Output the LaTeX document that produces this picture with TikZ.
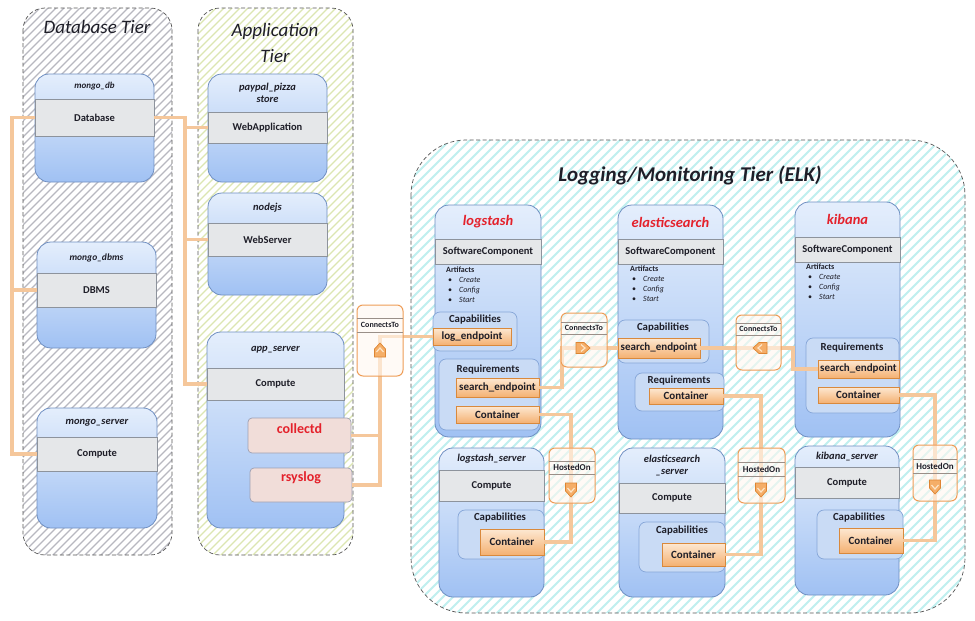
\documentclass[tikz,border=0pt]{standalone}
\usepackage{fontspec}
\setmainfont{Carlito}
\usetikzlibrary{calc,shadows}
\definecolor{compTop}{HTML}{E4EEFC}
\definecolor{compBot}{HTML}{A0C1F3}
\definecolor{compedge}{HTML}{6F8FC2}
\definecolor{bandfill}{HTML}{E5E7E9}
\definecolor{bandedge}{HTML}{8D939C}
\definecolor{subfill}{HTML}{C9DBF5}
\definecolor{subedge}{HTML}{86A6D8}
\definecolor{oTop}{HTML}{FDE8D2}
\definecolor{oBot}{HTML}{F4B172}
\definecolor{oedge}{HTML}{D9893C}
\definecolor{connc}{HTML}{F5C79B}
\definecolor{relframe}{HTML}{EE9D57}
\definecolor{relfill}{HTML}{FFF8F0}
\definecolor{relsep}{HTML}{9A8F88}
\definecolor{iconfill}{HTML}{F5AE68}
\definecolor{iconedge}{HTML}{DD8533}
\definecolor{iconline}{HTML}{FDE5C8}
\definecolor{pinkfill}{HTML}{F1DDD9}
\definecolor{pinkedge}{HTML}{9EA0B2}
\definecolor{redtxt}{HTML}{E4212B}
\definecolor{txt}{HTML}{1E1E28}
\definecolor{dbhatch}{HTML}{B8B8C0}
\definecolor{apphatch}{HTML}{DCE6B2}
\definecolor{elkhatch}{HTML}{C0EFEF}
\definecolor{tierline}{HTML}{555555}
\newcommand\redtitle{\fontsize{14.5}{16}\selectfont\color{redtxt}}
\newcommand\compbox[9]{%
  \path[compbody] (#2,#3) rectangle (#4,#5);
  \node[titletext] (#1-n) at ({(#2+#4)/2},{(#3+#6)/2}) {#8};
  \node[band, minimum width={(#4-#2)*1pt}, minimum height={(#7-#6)*1pt}] (#1-t) at ({(#2+#4)/2},{(#6+#7)/2}) {#9};
}
\newcommand\obox[6]{%
  \node[orangebox, minimum width={(#4-#2)*1pt}, minimum height={(#5-#3)*1pt}] (#1) at ({(#2+#4)/2},{(#3+#5)/2}) {#6};
}
\newcommand\relbox[8]{%
  \path[relbody] (#2,#3) rectangle (#4,#5);
  \draw[relsepline] (#2,#6) -- (#4,#6) (#2,#7) -- (#4,#7);
  \node[reltext] (#1) at ({(#2+#4)/2},{(#6+#7)/2}) {#8};
}
\newcommand\relicon[4]{%
  \coordinate (#1) at (#2,#3);
  \begin{scope}[shift={(#1)},rotate=#4]
    \filldraw[iconst] (-5.5,7) -- (-5.5,-1) -- (0,-7) -- (5.5,-1) -- (5.5,7) -- cycle;
    \draw[iconch] (-3.5,2) -- (0,-2) -- (3.5,2);
  \end{scope}
}
\newcommand\artifacts[3]{%
  \node[artif, anchor=north west] (#1) at (#2,#3) {%
    \begin{tabular}{@{}l@{\hspace{7pt}}l@{}}
      \multicolumn{2}{@{}l}{\bfseries Artifacts}\\
      \hspace{2pt}\textbullet & \itshape Create\\
      \hspace{2pt}\textbullet & \itshape Config\\
      \hspace{2pt}\textbullet & \itshape Start
    \end{tabular}};
}
\begin{document}
\begin{tikzpicture}[x=1pt,y=-1pt,
  tier/.style={draw=tierline, dash pattern=on 4pt off 2.5pt, line width=0.7pt},
  hatch/.style={line width=1.1pt},
  compbody/.style={draw=compedge, line width=0.8pt, top color=compTop, bottom color=compBot, rounded corners=14pt},
  band/.style={draw=bandedge, fill=bandfill, line width=0.6pt, inner sep=0pt, outer sep=0pt, font=\fontsize{10.5}{12}\selectfont\bfseries, text=txt},
  titletext/.style={inner sep=0pt, align=center, font=\fontsize{10.5}{12}\selectfont\bfseries\itshape, text=txt},
  subbox/.style={draw=subedge, fill=subfill, line width=0.7pt, rounded corners=7pt},
  sublabel/.style={inner sep=0pt, font=\fontsize{10.8}{12}\selectfont\bfseries, text=txt},
  orangebox/.style={draw=oedge, line width=0.7pt, top color=oTop, bottom color=oBot, inner sep=0pt, outer sep=0pt, font=\fontsize{11}{12}\selectfont\bfseries, text=txt, drop shadow={shadow xshift=1.2pt, shadow yshift=-1.2pt, opacity=0.35, fill=black!60}},
  pinkbox/.style={draw=pinkedge, fill=pinkfill, line width=0.7pt, rounded corners=4pt, inner sep=0pt},
  redlabel/.style={inner sep=0pt, font=\fontsize{14}{16}\selectfont\bfseries, text=redtxt},
  relbody/.style={draw=relframe, fill=relfill, fill opacity=0.6, line width=1pt, rounded corners=6pt},
  relsepline/.style={draw=relsep, line width=0.6pt},
  reltext/.style={inner sep=0pt, font=\fontsize{8}{9}\selectfont\bfseries, text=txt},
  iconst/.style={fill=iconfill, draw=iconedge, line width=0.7pt},
  iconch/.style={draw=iconline, line width=1.2pt},
  conn/.style={draw=connc, line width=3.5pt},
  artif/.style={inner sep=0pt, font=\fontsize{8}{10}\selectfont, text=txt},
  tiertitle/.style={inner sep=0pt, align=center, font=\fontsize{19}{26}\selectfont\itshape, text=txt}
]
\useasboundingbox (0,0) rectangle (975,621);
\fill[white] (0,0) rectangle (975,621);

% tiers (hatched)
\begin{scope}
  \clip[rounded corners=22pt] (23,8) rectangle (172,555);
  \foreach \k in {-560,-552,...,180} \draw[hatch, dbhatch] (\k,560) -- ++(560,-560);
\end{scope}
\begin{scope}
  \clip[rounded corners=22pt] (198,8) rectangle (353,555);
  \foreach \k in {-360,-352,...,360} \draw[hatch, apphatch, line width=1.4pt] (\k,560) -- ++(560,-560);
\end{scope}
\begin{scope}
  \clip[rounded corners=55pt] (411,140) rectangle (965,613);
  \foreach \k in {-80,-70,...,970} \draw[hatch, elkhatch, line width=1.9pt] (\k,620) -- ++(490,-490);
\end{scope}
\draw[tier, rounded corners=22pt] (23,8) rectangle (172,555);
\draw[tier, rounded corners=22pt] (198,8) rectangle (353,555);
\draw[tier, rounded corners=55pt] (411,140) rectangle (965,613);
\node[tiertitle] (dbtitle) at (97,27) {Database Tier};
\node[tiertitle] (apptitle) at (275,43) {Application\\Tier};
\node[tiertitle, font=\fontsize{21}{24}\selectfont\bfseries\itshape] (elktitle) at (690,175) {Logging/Monitoring Tier (ELK)};

% database tier
\compbox{mdb}{35}{74}{154}{182}{99}{136}{\fontsize{9}{10}\selectfont mongo\_db}{Database}
\compbox{mdbms}{37}{242}{156}{348}{273}{307}{\fontsize{9.5}{10}\selectfont mongo\_dbms}{DBMS}
\compbox{ms}{37}{408}{157}{528}{437}{471}{mongo\_server}{Compute}

% application tier
\compbox{pp}{208}{74}{327}{182}{112}{143}{paypal\_pizza\\store}{WebApplication}
\compbox{nj}{208}{193}{327}{295}{223}{256}{nodejs}{WebServer}
\compbox{as}{207}{332}{344}{528}{368}{400}{app\_server}{Compute}
\node[pinkbox, minimum width=103pt, minimum height=35pt] (cd) at (299.5,435.5) {};
\node[redlabel] (cd-l) at (299.5,429) {collectd};
\node[pinkbox, minimum width=102pt, minimum height=34pt] (rs) at (301,485) {};
\node[redlabel] (rs-l) at (301,478) {rsyslog};

% ELK tier
\compbox{ls}{435}{205}{541}{437}{239}{264}{\redtitle logstash}{SoftwareComponent}
\compbox{es}{618}{205}{723}{439}{239}{264}{\redtitle elasticsearch}{SoftwareComponent}
\compbox{kb}{795}{202}{900}{437}{237}{262}{\redtitle kibana}{SoftwareComponent}
\compbox{lss}{439}{448}{544}{597}{470}{501}{logstash\_server}{Compute}
\compbox{ess}{619}{448}{725}{597}{483}{513}{elasticsearch\\\_server}{Compute}
\compbox{kbs}{795}{446}{899}{595}{467}{498}{kibana\_server}{Compute}

\artifacts{ls-art}{446}{265}
\artifacts{es-art}{630}{264}
\artifacts{kb-art}{806}{262}

% logstash
\draw[subbox] (433,312) rectangle (517,351);
\node[sublabel] (ls-capl) at (475,320) {Capabilities};
\obox{ls-log}{433}{328}{511}{345}{log\_endpoint}
\draw[subbox] (439,359) rectangle (539,430);
\node[sublabel] (ls-reql) at (488,370) {Requirements};
\obox{ls-se}{456}{378}{539}{397}{search\_endpoint}
\obox{ls-ct}{456}{406}{539}{423}{Container}

% elasticsearch
\draw[subbox] (618,320) rectangle (709,363);
\node[sublabel] (es-capl) at (663,328) {Capabilities};
\obox{es-se}{618}{338}{700}{358}{search\_endpoint}
\draw[subbox] (635,373) rectangle (724,411);
\node[sublabel] (es-reql) at (679,381) {Requirements};
\obox{es-ct}{649}{388}{723}{404}{Container}

% kibana
\draw[subbox] (806,338) rectangle (899,413);
\node[sublabel] (kb-reql) at (852,348) {Requirements};
\obox{kb-se}{818}{360}{899}{378}{search\_endpoint}
\obox{kb-ct}{818}{387}{899}{403}{Container}

% servers
\draw[subbox] (458,510) rectangle (544,559);
\node[sublabel] (lss-capl) at (500,518) {Capabilities};
\obox{lss-ct}{480}{529}{544}{555}{Container}
\draw[subbox] (639,522) rectangle (725,572);
\node[sublabel] (ess-capl) at (682,531) {Capabilities};
\obox{ess-ct}{662}{543}{725}{566}{Container}
\draw[subbox] (817,510) rectangle (903,559);
\node[sublabel] (kbs-capl) at (859,518) {Capabilities};
\obox{kbs-ct}{839}{528}{903}{553}{Container}

\coordinate (ct1c) at (380,350);
\coordinate (ct2c) at (583,348);
\coordinate (ct3c) at (760,348);
\coordinate (ho1c) at (571,490);
\coordinate (ho2c) at (761,490);
\coordinate (ho3c) at (935,487);
\coordinate (busL) at (12,0);
\coordinate (busR) at (185,0);
\coordinate (ct2a) at (562,0);
\coordinate (ct3a) at (793,0);

% connectors
\draw[conn] (mdb-t.west) -- (mdb-t.west -| busL) |- (mdbms-t.west);
\draw[conn] (mdbms-t.west) -- (mdbms-t.west -| busL) |- (ms-t.west);
\draw[conn] (mdb-t.east) -- (mdb-t.east -| busR) |- (pp-t.west);
\draw[conn] (pp-t.west) -- (pp-t.west -| busR) |- (nj-t.west);
\draw[conn] (nj-t.west) -- (nj-t.west -| busR) |- (as-t.west);
\draw[conn] (cd.east) -| (ct1c) |- (ls-log.west);
\draw[conn] (rs.east) -| (ct1c);
\draw[conn] (ls-se.east) -| (ct2a |- ct2c) -- (ct2c -| es-se.west);
\draw[conn] (es-se.east) -- (es-se.east -| ct3a) |- (kb-se.west);
\draw[conn] (ls-ct.east) -| (ho1c) |- (lss-ct.east);
\draw[conn] (es-ct.east) -| (ho2c) |- (ess-ct.east);
\draw[conn] (kb-ct.east) -| (ho3c) |- (kbs-ct.east);

% relationship boxes (over the connectors, translucent)
\relbox{ct1}{357}{305}{403}{376}{318}{332}{ConnectsTo}
\relbox{ct2}{561}{313}{607}{367}{322}{334}{ConnectsTo}
\relbox{ct3}{736}{315}{781}{370}{323}{335}{ConnectsTo}
\relbox{ho1}{549}{448}{595}{503}{461}{474}{\fontsize{9}{10}\selectfont HostedOn}
\relbox{ho2}{738}{448}{785}{503}{462}{476}{\fontsize{9}{10}\selectfont HostedOn}
\relbox{ho3}{913}{445}{957}{501}{459}{473}{\fontsize{9}{10}\selectfont HostedOn}

% icons
\relicon{ct1i}{380}{350}{0}
\relicon{ct2i}{583}{348}{-90}
\relicon{ct3i}{760}{348}{90}
\relicon{ho1i}{571}{490}{180}
\relicon{ho2i}{761}{490}{180}
\relicon{ho3i}{935}{487}{180}
\end{tikzpicture}
\end{document}
